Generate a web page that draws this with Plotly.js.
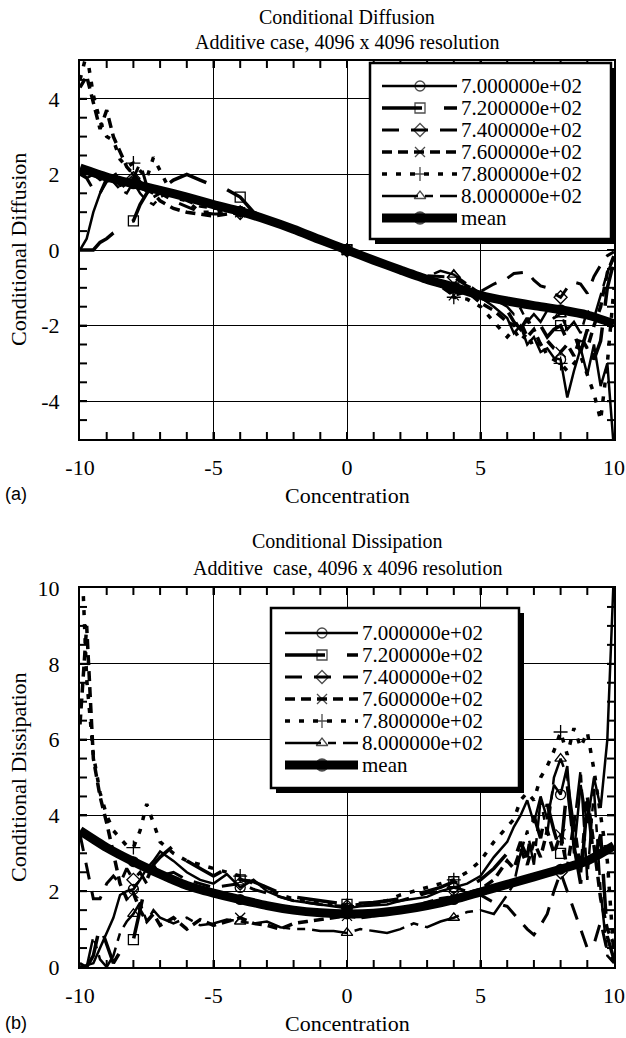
<!DOCTYPE html>
<html><head><meta charset="utf-8">
<script src="https://cdn.plot.ly/plotly-3.0.1.min.js"></script>
<style>html,body{margin:0;padding:0;background:#fff}#chart{width:626px;height:1038px}</style>
</head><body><div id="chart"></div>
<script>
// ---------------- DATA ----------------
const xs = [-10,-9.75,-9.5,-9.25,-9,-8.75,-8.5,-8.25,-8,-7.75,-7.5,-7.25,-7,
  -6.5,-6,-5.5,-5,-4.5,-4,-3.5,-3,-2.5,-2,-1.5,-1,-0.5,0,0.5,1,1.5,2,2.5,3,3.5,4,4.5,5,5.5,
  6,6.25,6.5,6.75,7,7.25,7.5,7.75,8,8.25,8.5,8.75,9,9.25,9.5,9.75,10];
const xMean = [-10,-9,-8,-7,-6,-5,-4,-3,-2,-1,0,1,2,3,4,5,6,7,8,9,10];
const markX = [-8,-4,0,4,8];
const seriesNames = ["7.000000e+02","7.200000e+02","7.400000e+02","7.600000e+02","7.800000e+02","8.000000e+02"];
const meanName = "mean";
const xTickVals = [-10,-5,0,5,10];
const diffTickVals = [-4,-2,0,2,4];
const dissTickVals = [0,2,4,6,8,10];

// (a) Conditional Diffusion
const diff700 = [0,0.3,1.0,1.5,1.8,1.9,1.7,1.75,1.8,1.65,1.55,1.6,1.5,
  1.45,1.35,1.25,1.2,1.1,1.02,0.92,0.8,0.68,0.55,0.41,0.28,0.14,0,-0.13,-0.27,-0.4,-0.53,-0.66,-0.78,-0.88,-1.0,-1.1,-1.25,-1.5,
  -1.8,-2.2,-2.0,-2.5,-2.3,-2.7,-2.6,-2.85,-2.9,-3.9,-3.2,-2.6,-3.3,-2.5,-3.6,-3.0,-5.3];
const diff720 = [0,0,0,0.2,0.3,0.45,0.55,0.7,0.77,1.2,1.5,1.7,1.6,
  1.85,2.0,1.85,1.7,1.6,1.4,1.0,0.84,0.7,0.57,0.43,0.29,0.15,0.01,-0.12,-0.26,-0.39,-0.52,-0.65,-0.77,-0.9,-1.0,-1.12,-1.25,-1.45,
  -1.6,-1.9,-2.1,-1.8,-2.2,-2.0,-2.3,-2.1,-2.0,-2.4,-2.2,-2.7,-2.1,-2.9,-2.4,-1.0,-0.3];
const diff740 = [2.0,1.9,1.6,1.5,1.9,2.1,1.8,1.6,1.9,2.3,1.7,1.4,1.5,
  1.3,1.15,1.0,0.95,0.95,0.98,0.9,0.79,0.67,0.54,0.4,0.27,0.13,-0.01,-0.14,-0.28,-0.41,-0.54,-0.6,-0.68,-0.7,-0.72,-0.95,-1.1,-0.9,
  -0.75,-0.62,-0.6,-0.58,-0.8,-0.95,-1.0,-1.15,-1.25,-1.0,-0.85,-0.9,-1.15,-0.7,-0.4,-0.15,-0.05];
const diff760 = [4.3,4.6,3.9,3.2,3.7,3.0,2.6,2.2,2.0,1.8,1.6,1.5,1.3,
  1.1,1.0,0.95,0.9,0.95,1.0,0.93,0.81,0.69,0.56,0.42,0.28,0.15,0,-0.13,-0.27,-0.4,-0.55,-0.68,-0.8,-0.95,-1.2,-1.1,-1.4,-1.6,
  -1.9,-2.0,-1.9,-2.3,-2.1,-2.5,-2.4,-2.6,-2.7,-2.5,-2.8,-2.3,-2.6,-2.0,-1.5,-0.6,-0.15];
const diff780 = [4.5,5.2,4.1,3.4,3.0,2.9,2.4,2.2,2.3,2.1,1.9,2.45,2.1,
  1.4,1.3,1.0,1.0,1.05,1.0,0.9,0.8,0.68,0.55,0.41,0.27,0.14,0,-0.14,-0.27,-0.4,-0.53,-0.67,-0.8,-0.9,-1.25,-1.3,-1.5,-1.9,
  -2.3,-2.1,-2.4,-2.2,-2.6,-2.4,-2.8,-2.9,-3.0,-3.2,-3.0,-2.8,-3.3,-3.8,-4.5,-3.0,-1.0];
const diff800 = [2.1,1.9,2.0,1.85,1.95,1.8,1.6,1.5,1.8,1.5,1.3,1.2,1.4,
  1.55,1.3,1.15,1.1,1.05,1.0,0.91,0.8,0.68,0.55,0.41,0.27,0.14,0,-0.13,-0.27,-0.4,-0.53,-0.62,-0.7,-0.55,-0.65,-0.9,-1.15,-1.3,
  -1.5,-1.7,-1.55,-1.9,-1.7,-1.9,-1.6,-1.8,-1.7,-2.1,-1.9,-2.2,-1.6,-1.8,-1.2,-0.6,-0.2];
const diffMean = [2.17,1.93,1.75,1.58,1.4,1.2,1.02,0.8,0.55,0.27,0,-0.27,-0.53,-0.78,-0.98,-1.2,-1.35,-1.47,-1.58,-1.72,-1.95];

// (b) Conditional Dissipation
const diss700 = [0,0.05,0.1,0.5,0.9,1.3,1.9,2.0,2.05,2.3,2.6,2.8,3.05,
  2.8,2.5,2.3,2.2,2.45,2.1,2.3,2.0,1.85,1.75,1.7,1.65,1.6,1.55,1.6,1.62,1.65,1.75,1.8,1.85,2.0,2.1,2.2,2.4,2.9,
  3.3,3.7,4.0,4.4,3.8,4.5,3.9,4.8,4.55,5.3,3.0,4.8,3.8,5.0,4.2,6.0,10.5];
const diss720 = [0,0,0.3,1.1,0.6,0.1,0.4,0.5,0.72,1.5,2.3,2.7,2.9,
  3.2,2.8,2.6,2.4,2.6,2.3,2.25,2.1,1.95,1.85,1.8,1.75,1.7,1.65,1.68,1.7,1.75,1.8,1.9,2.0,2.1,2.25,2.1,2.3,2.6,
  3.0,2.8,3.3,2.9,4.0,3.4,4.3,3.6,3.0,4.8,3.2,2.2,4.4,2.8,3.5,0.8,0.2];
const diss740 = [3.5,2.6,1.8,1.8,2.2,2.4,2.2,2.6,2.3,2.5,2.2,2.7,2.4,
  2.5,2.3,2.2,2.1,2.15,2.2,2.05,1.95,1.85,1.75,1.7,1.65,1.62,1.6,1.62,1.65,1.7,1.75,1.85,1.95,2.0,2.1,2.0,1.9,1.7,
  1.6,1.4,1.2,1.0,0.85,1.1,1.4,2.0,2.5,2.0,1.5,1.0,0.5,0.6,1.2,0.4,0.15];
const diss760 = [6.4,9.0,5.5,4.5,3.8,3.0,2.2,1.8,1.95,1.5,1.2,1.4,1.1,
  1.3,1.0,1.25,1.1,1.2,1.3,1.15,1.1,1.0,1.15,1.2,1.25,1.3,1.35,1.3,1.35,1.4,1.5,1.6,1.7,1.8,1.85,1.95,2.05,2.3,
  2.8,2.6,3.1,2.7,3.3,2.9,3.6,3.0,3.5,2.6,3.8,2.5,4.5,3.2,1.8,1.0,0.6];
const diss780 = [12,7.6,5.6,4.6,4.0,3.6,3.4,3.2,3.15,3.6,4.3,3.8,3.3,
  3.0,2.8,2.7,2.6,2.5,2.4,2.2,2.1,1.9,1.8,1.75,1.7,1.65,1.62,1.65,1.7,1.75,1.9,2.0,2.1,2.2,2.3,2.5,2.8,3.3,
  3.7,3.9,4.4,4.6,4.4,5.0,5.3,5.7,6.2,5.6,6.3,5.8,6.2,5.2,4.0,2.8,0.3];
const diss800 = [0.1,0,0.8,0.2,0,0.3,0.9,1.2,1.4,1.7,1.2,1.5,1.3,
  1.15,1.3,1.1,1.15,1.25,1.2,1.15,1.2,1.05,1.0,1.0,0.95,0.95,0.9,1.0,0.95,0.9,1.0,1.15,1.05,1.2,1.3,1.45,1.5,1.4,
  1.9,2.2,3.0,3.6,2.7,4.4,3.5,5.0,5.5,5.0,3.7,5.2,2.3,4.7,2.0,0.3,0.1];
const dissMean = [3.6,3.15,2.78,2.45,2.15,1.95,1.78,1.62,1.5,1.43,1.4,1.42,1.5,1.62,1.78,1.98,2.18,2.38,2.58,2.8,3.2];

const diffSeries = [diff700,diff720,diff740,diff760,diff780,diff800];
const dissSeries = [diss700,diss720,diss740,diss760,diss780,diss800];

// ---------------- STYLE ----------------
const W = 626, H = 1038;
const serif = 'Liberation Serif, Times New Roman, serif';
const styles = [
  {dash:'solid', width:2.5, symbol:'circle-open'},
  {dash:'40px,22px', width:3.5, symbol:'square-open'},
  {dash:'17px,12px', width:3, symbol:'diamond-open'},
  {dash:'10px,6px', width:3.5, symbol:'x-thin-open'},
  {dash:'5px,9px', width:3.5, symbol:'cross-thin-open'},
  {dash:'36px,7px,8px,7px', width:2.5, symbol:'triangle-up-open'}
];
const meanStyle = {dash:'solid', width:9, symbol:'circle'};

const traces = [];
function addPlot(seriesList, meanVals, xa, ya) {
  seriesList.forEach((s, i) => {
    traces.push({x: xs, y: s, xaxis: xa, yaxis: ya, mode: 'lines', showlegend: false,
      line: {color: 'black', width: styles[i].width, dash: styles[i].dash}, hoverinfo: 'skip'});
    traces.push({x: markX, y: markX.map(m => s[xs.indexOf(m)]), xaxis: xa, yaxis: ya, mode: 'markers', showlegend: false,
      marker: {symbol: styles[i].symbol, size: 10, color: 'black', line: {color: 'black', width: 1.3}}, hoverinfo: 'skip'});
  });
  traces.push({x: xMean, y: meanVals, xaxis: xa, yaxis: ya, mode: 'lines', showlegend: false,
    line: {color: 'black', width: meanStyle.width, shape: 'spline', smoothing: 0.6}, hoverinfo: 'skip'});
  traces.push({x: markX, y: markX.map(m => meanVals[xMean.indexOf(m)]), xaxis: xa, yaxis: ya, mode: 'markers', showlegend: false,
    marker: {symbol: 'circle', size: 11, color: 'black'}, hoverinfo: 'skip'});
}
addPlot(diffSeries, diffMean, 'x', 'y');
addPlot(dissSeries, dissMean, 'x2', 'y2');

// ---------------- MINOR TICK MARKS (inside, all four sides) as a line trace in axis units ----------------
const PLOT_W_PX = 614 - 80;
function addTicks(xa, ya, yMin, yMax, plotHpx) {
  const TL = 7;
  const dx = TL * 20 / PLOT_W_PX;
  const dy = TL * (yMax - yMin) / plotHpx;
  const tx = [], ty = [];
  for (let v = -9; v <= 9; v += 1) {
    tx.push(v, v, null, v, v, null);
    ty.push(yMin, yMin + dy, null, yMax, yMax - dy, null);
  }
  for (let k = 1; k < (yMax - yMin) * 2; k++) {
    const v = yMin + k * 0.5;
    tx.push(-10, -10 + dx, null, 10, 10 - dx, null);
    ty.push(v, v, null, v, v, null);
  }
  traces.push({x: tx, y: ty, xaxis: xa, yaxis: ya, mode: 'lines', showlegend: false, hoverinfo: 'skip',
    connectgaps: false, line: {color: 'black', width: 2}});
}
addTicks('x', 'y', -5, 5, 439 - 61);
addTicks('x2', 'y2', 0, 10, 967 - 588);

// ---------------- LEGENDS (drawn in pixel overlay axes x3/y3) ----------------
const shapes = [];
const annotations = [];
const legendDefs = [
  {left:370, top:63, right:611, bottom:239, lx0:382, lx1:457, mx:420, tx:460, y0:86, dy:22},
  {left:271, top:608, right:519, bottom:788, lx0:285, lx1:358, mx:322, tx:361, y0:633, dy:22}
];
const legMarkX = [], legMarkY = [], legMarkSym = [], legMarkSize = [];
legendDefs.forEach(L => {
  shapes.push({type:'rect', xref:'x3', yref:'y3', layer:'below', x0:L.left+5, x1:L.right+5, y0:L.top+5, y1:L.bottom+5,
    fillcolor:'black', line:{width:0}});
  shapes.push({type:'rect', xref:'x3', yref:'y3', layer:'below', x0:L.left, x1:L.right, y0:L.top, y1:L.bottom,
    fillcolor:'white', line:{color:'black', width:2.5}});
  const allStyles = styles.concat([meanStyle]);
  const allNames = seriesNames.concat([meanName]);
  allStyles.forEach((st, i) => {
    const ry = L.y0 + i * L.dy;
    shapes.push({type:'line', xref:'x3', yref:'y3', layer:'below', x0:L.lx0, x1:L.lx1, y0:ry, y1:ry,
      line:{color:'black', width: st.width, dash: st.dash}});
    legMarkX.push(L.mx); legMarkY.push(ry); legMarkSym.push(st.symbol); legMarkSize.push(i === 6 ? 12 : 10);
    annotations.push({xref:'x3', yref:'y3', x:L.tx, y:ry, xanchor:'left', yanchor:'middle', showarrow:false,
      borderpad:0, text: allNames[i], font:{family: serif, size: 21, color:'black'}});
  });
});
traces.push({x: legMarkX, y: legMarkY, xaxis:'x3', yaxis:'y3', mode:'markers', showlegend:false, hoverinfo:'skip',
  marker:{symbol: legMarkSym, size: legMarkSize, color:'black', line:{color:'black', width:1.3}}});

// titles and axis titles
function txt(x, y, t, size, extra) {
  annotations.push(Object.assign({xref:'x3', yref:'y3', x:x, y:y, xanchor:'center', yanchor:'middle', showarrow:false,
    borderpad:0, text:t, font:{family: serif, size: size, color:'black'}}, extra || {}));
}
txt(347, 17, 'Conditional Diffusion', 20);
txt(347, 42, 'Additive case, 4096 x 4096 resolution', 20);
txt(347, 495, 'Concentration', 22);
txt(18, 250, 'Conditional Diffusion', 22, {textangle: -90});
txt(4, 494, '(a)', 18, {xanchor:'left', font:{family:'Liberation Sans, Arial, sans-serif', size:18, color:'black'}});
txt(347, 541, 'Conditional Dissipation', 20);
txt(347, 568, 'Additive\u00a0 case, 4096 x 4096 resolution', 20);
txt(347, 1023, 'Concentration', 22);
txt(18, 777, 'Conditional Dissipation', 22, {textangle: -90});
txt(4, 1023, '(b)', 18, {xanchor:'left', font:{family:'Liberation Sans, Arial, sans-serif', size:18, color:'black'}});

// ---------------- AXES ----------------
function xAxis(anchor) {
  return {domain:[80/W, 614/W], range:[-10,10], anchor: anchor,
    tickmode:'array', tickvals: xTickVals, ticktext: xTickVals.map(String),
    ticks:'inside', ticklen:7, tickwidth:2, tickcolor:'black',
    showgrid:true, gridcolor:'black', gridwidth:1, zeroline:false,
    showline:true, linecolor:'black', linewidth:2, mirror:'ticks',
    tickfont:{family: serif, size:22, color:'black'}, ticklabelstandoff: 8, fixedrange:true};
}
function yAxis(anchor, dom, rng, vals) {
  return {domain: dom, range: rng, anchor: anchor,
    tickmode:'array', tickvals: vals, ticktext: vals.map(String),
    ticks:'inside', ticklen:7, tickwidth:2, tickcolor:'black',
    showgrid:true, gridcolor:'black', gridwidth:1, zeroline:false,
    showline:true, linecolor:'black', linewidth:2, mirror:'ticks',
    tickfont:{family: serif, size:22, color:'black'}, ticklabelstandoff: 14, fixedrange:true};
}

const layout = {
  width: W, height: H, margin:{l:0, r:0, t:0, b:0},
  paper_bgcolor:'white', plot_bgcolor:'rgba(0,0,0,0)', showlegend:false,
  xaxis: xAxis('y'),
  yaxis: yAxis('x', [1-439/H, 1-61/H], [-5,5], diffTickVals),
  xaxis2: xAxis('y2'),
  yaxis2: yAxis('x2', [1-967/H, 1-588/H], [0,10], dissTickVals),
  xaxis3: {domain:[0,1], range:[0,W], anchor:'y3', visible:false, fixedrange:true},
  yaxis3: {domain:[0,1], range:[H,0], anchor:'x3', visible:false, fixedrange:true},
  shapes: shapes, annotations: annotations
};

Plotly.newPlot('chart', traces, layout, {displayModeBar:false, staticPlot:true});
</script>
</body></html>
